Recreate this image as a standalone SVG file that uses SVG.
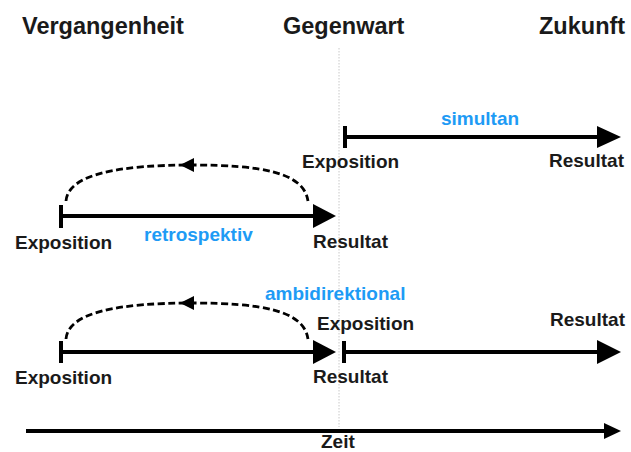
<svg xmlns="http://www.w3.org/2000/svg" width="631" height="452" viewBox="0 0 631 452">
<style>
.t{font-family:"Liberation Sans",Arial,sans-serif;font-weight:bold;fill:#1a1a1a}
.h{font-size:23.5px}
.l{font-size:19px}
.b{font-size:19px;fill:#1e9bf5}
.ln{stroke:#000;stroke-width:4;fill:none}
.tk{stroke:#000;stroke-width:4}
.ds{stroke:#000;stroke-width:2.8;fill:none;stroke-dasharray:7,3.5}
.ah{fill:#000}
</style>
<rect width="631" height="452" fill="#fff"/>
<g id="now-line"><line x1="339" y1="48" x2="339" y2="427" stroke="#c8c8c8" stroke-width="1" stroke-dasharray="1.5,1.5"/></g>
<g id="titles">
<text class="t h" x="22" y="34">Vergangenheit</text>
<text class="t h" x="283" y="34">Gegenwart</text>
<text class="t h" x="539" y="34">Zukunft</text>
</g>
<g id="connectors">
<g id="simultan-arrow">
<line class="tk" x1="345" y1="126" x2="345" y2="148"/>
<line class="ln" x1="345" y1="137" x2="600" y2="137"/>
<polygon class="ah" points="597,126 621,137 597,148"/>
</g>
<g id="retro-arrow">
<line class="tk" x1="61" y1="205" x2="61" y2="228"/>
<line class="ln" x1="61" y1="216" x2="316" y2="216"/>
<polygon class="ah" points="313,204 336,216 313,228"/>
<path class="ds" d="M66,201 C68,174 120,165 192,165 C260,165 304,172 308,201"/>
<polygon class="ah" points="180,165 194,158 194,172"/>
</g>
<g id="ambi-arrow-left">
<line class="tk" x1="61" y1="341" x2="61" y2="363"/>
<line class="ln" x1="61" y1="352" x2="316" y2="352"/>
<polygon class="ah" points="313,340 336,352 313,364"/>
<path class="ds" d="M66,339 C68,312 120,303 192,303 C260,303 304,310 308,339"/>
<polygon class="ah" points="180,303 194,296 194,310"/>
</g>
<g id="ambi-arrow-right">
<line class="tk" x1="344" y1="341" x2="344" y2="363"/>
<line class="ln" x1="344" y1="352" x2="600" y2="352"/>
<polygon class="ah" points="597,340 621,352 597,364"/>
</g>
<g id="zeit-axis">
<line class="ln" x1="26" y1="431" x2="608" y2="431"/>
<polygon class="ah" points="604,423 621,431 604,439"/>
</g>
</g>
<g id="simultan">
<text class="t b" x="441" y="125">simultan</text>
<text class="t l" x="302" y="168">Exposition</text>
<text class="t l" x="549" y="167">Resultat</text>
</g>
<g id="retrospektiv">
<text class="t l" x="15" y="249">Exposition</text>
<text class="t b" x="144" y="241">retrospektiv</text>
<text class="t l" x="313" y="248">Resultat</text>
</g>
<g id="ambidirektional">
<text class="t b" x="265" y="300">ambidirektional</text>
<text class="t l" x="317" y="330">Exposition</text>
<text class="t l" x="550" y="326">Resultat</text>
<text class="t l" x="15" y="384">Exposition</text>
<text class="t l" x="313" y="383">Resultat</text>
</g>
<g id="zeit">
<text class="t l" x="321" y="448">Zeit</text>
</g>
</svg>
